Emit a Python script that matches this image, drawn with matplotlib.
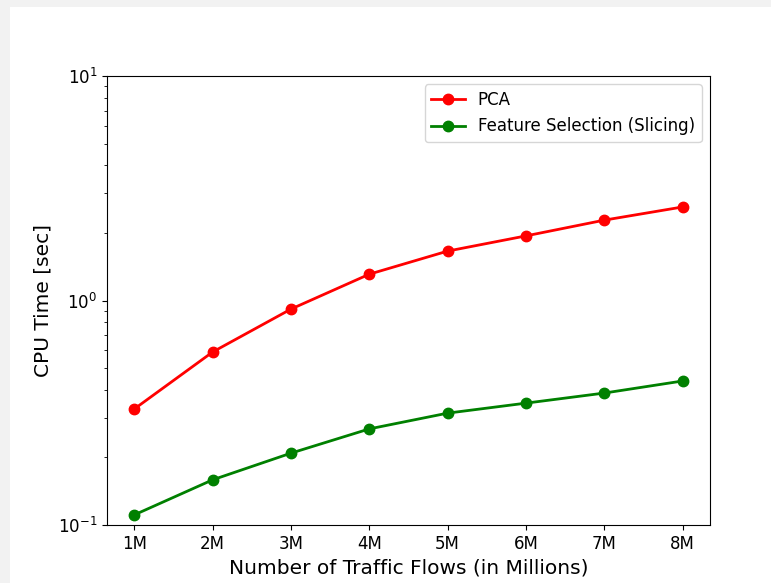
import matplotlib
matplotlib.use("Agg")
import matplotlib.pyplot as plt
from matplotlib.patches import Rectangle

# Données
flows = [1, 2, 3, 4, 5, 6, 7, 8]
flow_labels = ["1M", "2M", "3M", "4M", "5M", "6M", "7M", "8M"]
pca_time = [0.329, 0.590, 0.916, 1.31, 1.66, 1.94, 2.28, 2.61]
slicing_time = [0.111, 0.159, 0.209, 0.268, 0.315, 0.349, 0.387, 0.438]

fig = plt.figure(figsize=(7.71, 5.83), dpi=100, facecolor="#f2f2f2")
# fond blanc de la figure (bordure grise en haut et à gauche)
fig.patches.append(Rectangle((10 / 771, 0), 1, 1 - 7 / 583, transform=fig.transFigure,
                             facecolor="white", edgecolor="none", zorder=-10))

ax = fig.add_axes([107 / 771, 1 - 525 / 583, (710 - 107) / 771, (525 - 76) / 583])

ax.plot(flows, pca_time, color="red", marker="o", markersize=7.5, linewidth=2, label="PCA")
ax.plot(flows, slicing_time, color="green", marker="o", markersize=7.5, linewidth=2,
        label="Feature Selection (Slicing)")

ax.set_yscale("log")
ax.set_ylim(0.1, 10)
ax.set_xticks(flows)
ax.set_xticklabels(flow_labels)
ax.tick_params(labelsize=12)
ax.set_xlabel("Number of Traffic Flows (in Millions)", fontsize=14.5)
ax.set_ylabel("CPU Time [sec]", fontsize=14.5)
ax.legend(loc="upper right", fontsize=12)

plt.savefig("out.png", dpi=100, facecolor=fig.get_facecolor())
